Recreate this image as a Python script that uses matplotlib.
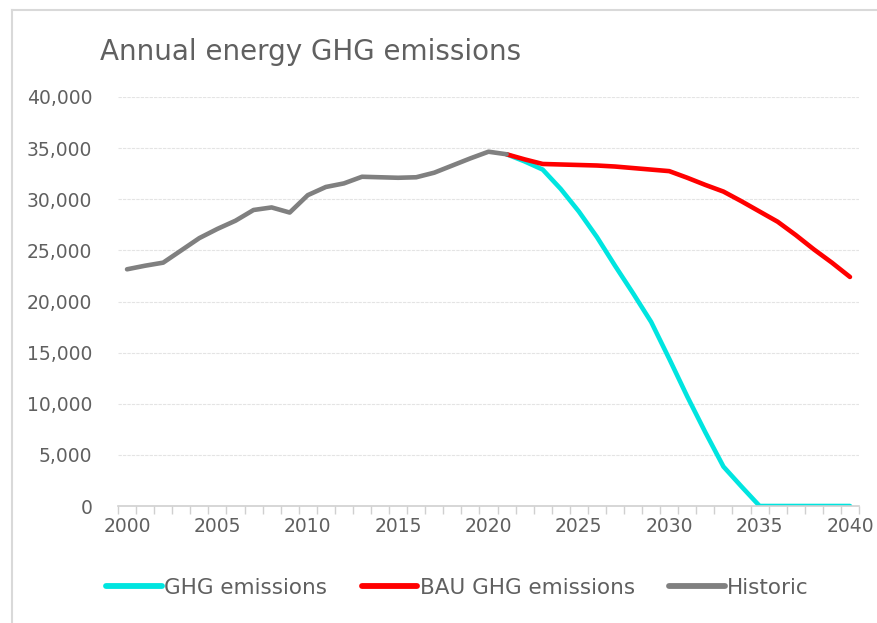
import numpy as np
import matplotlib
matplotlib.use("Agg")
import matplotlib.pyplot as plt
from matplotlib.lines import Line2D

# historic emissions, 2000-2021
hist_years = list(range(2000, 2022))
hist_vals = [23150, 23500, 23800, 25000, 26200, 27100, 27900, 28950, 29200, 28700,
             30400, 31200, 31550, 32200, 32150, 32100, 32150, 32600, 33300, 34000,
             34650, 34400]

# scenario years 2021-2040
proj_years = list(range(2021, 2041))
ghg_vals = [34400, 33700, 32900, 31000, 28800, 26300, 23500, 20800, 18000, 14400,
            10700, 7200, 3850, 1900, 0, 0, 0, 0, 0, 0]
bau_vals = [34400, 33900, 33450, 33400, 33350, 33300, 33200, 33050, 32900, 32750,
            32100, 31400, 30750, 29800, 28800, 27800, 26500, 25100, 23800, 22400]

txt = '#606060'
plt.rcParams['font.family'] = ['DejaVu Sans']

fig = plt.figure(figsize=(8.78, 6.23), dpi=100)
ax = fig.add_axes([118 / 878, 1 - 506 / 623, (859 - 118) / 878, (506 - 97) / 623])

lw = 3.3
ax.plot(proj_years, ghg_vals, color='#00e5e0', lw=lw, solid_capstyle='round', label='GHG emissions')
ax.plot(proj_years, bau_vals, color='#ff0000', lw=lw, solid_capstyle='round', label='BAU GHG emissions')
ax.plot(hist_years, hist_vals, color='#808080', lw=lw, solid_capstyle='round', label='Historic')

ax.set_xlim(1999.5, 2040.5)
ax.set_ylim(0, 40000)
ax.set_yticks(np.arange(0, 40001, 5000))
ax.set_yticklabels([f'{v:,}' for v in range(0, 40001, 5000)])
ax.set_xticks(range(2000, 2041, 5))
ax.set_xticks(np.arange(1999.5, 2041, 1), minor=True)
ax.tick_params(axis='x', which='major', length=0, pad=8, labelsize=13.5, colors=txt)
ax.tick_params(axis='x', which='minor', length=6, width=1, color='#d0d0d0')
ax.tick_params(axis='y', length=0, pad=18.5, labelsize=13.5, colors=txt)

ax.grid(axis='y', color='#e4e4e4', lw=0.8, ls=(0, (3, 1)))
ax.set_axisbelow(True)
for s in ['top', 'right', 'left']:
    ax.spines[s].set_visible(False)
ax.spines['bottom'].set_color('#d0d0d0')
ax.spines['bottom'].set_linewidth(1.2)

fig.text(100 / 878, 1 - 52 / 623, 'Annual energy GHG emissions', fontsize=20,
         color=txt, va='center', ha='left')

leg = fig.legend(loc='center', bbox_to_anchor=(0.521, 1 - 588 / 623), ncol=3,
                 frameon=False, fontsize=15.5, handlelength=2.6, handletextpad=0.1,
                 columnspacing=1.6)
for t in leg.get_texts():
    t.set_color(txt)
for h in leg.get_lines():
    h.set_linewidth(4.2)

# chart frame lines (top and left)
fig.add_artist(Line2D([12.5 / 878, 12.5 / 878], [0, 1 - 9.5 / 623], color='#d9d9d9', lw=1.5))
fig.add_artist(Line2D([12.5 / 878, 1], [1 - 9.5 / 623, 1 - 9.5 / 623], color='#d9d9d9', lw=1.5))

fig.savefig('out.png', dpi=100)
